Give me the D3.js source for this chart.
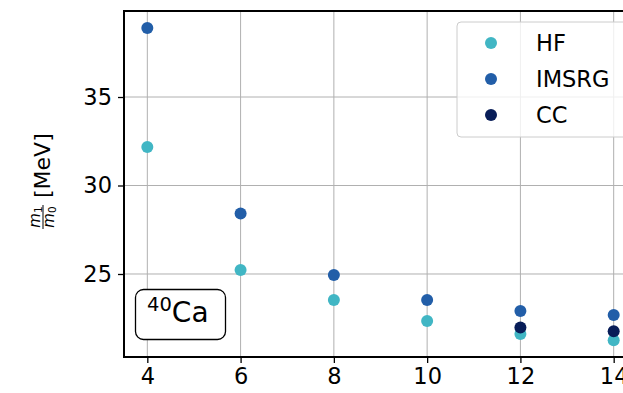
<!DOCTYPE html>
<html><head><meta charset="utf-8">
<script src="https://cdn.jsdelivr.net/npm/d3@7"></script>
<style>body{margin:0;background:#fff}svg{display:block;font-family:"DejaVu Sans",sans-serif}</style>
</head><body>
<svg id="c" width="623" height="393"></svg>
<script>
const emax = [4, 6, 8, 10, 12, 14];
const hf = [32.18, 25.23, 23.53, 22.35, 21.61, 21.25];
const imsrg = [38.9, 28.42, 24.94, 23.53, 22.91, 22.68];
const ccX = [12, 14];
const cc = [21.98, 21.76];
const xTicks = [4, 6, 8, 10, 12, 14];
const yTicks = [25, 30, 35];
const seriesNames = ["HF", "IMSRG", "CC"];
const colors = ["#41b6c4", "#225ea8", "#081d58"];

const svg = d3.select("#c");
const L = 124, T = 11, B = 357, R = 637;
const x = d3.scaleLinear().domain([3.5, 14.5]).range([L, R]);
const y = d3.scaleLinear().domain([20.31, 39.86]).range([B, T]);

// grid
svg.append("g").selectAll("line").data(xTicks).join("line")
  .attr("x1", d => x(d)).attr("x2", d => x(d)).attr("y1", T).attr("y2", B)
  .attr("stroke", "#b0b0b0").attr("stroke-width", 1);
svg.append("g").selectAll("line").data(yTicks).join("line")
  .attr("x1", L).attr("x2", R).attr("y1", d => y(d)).attr("y2", d => y(d))
  .attr("stroke", "#b0b0b0").attr("stroke-width", 1);

// axes
const xa = svg.append("g").attr("transform", `translate(0,${B})`)
  .call(d3.axisBottom(x).tickValues(xTicks).tickSize(6).tickPadding(5));
const ya = svg.append("g").attr("transform", `translate(${L},0)`)
  .call(d3.axisLeft(y).tickValues(yTicks).tickSize(6).tickPadding(6));
[xa, ya].forEach(g => {
  g.select(".domain").remove();
  g.selectAll("text").attr("font-size", 22.5).attr("font-family", "DejaVu Sans").attr("fill", "#000");
  g.selectAll("line").attr("stroke", "#000").attr("stroke-width", 1.3);
});
// spines
svg.append("rect").attr("x", L).attr("y", T).attr("width", R - L).attr("height", B - T)
  .attr("fill", "none").attr("stroke", "#000").attr("stroke-width", 2);

// points
const data = [
  emax.map((e, i) => [e, hf[i]]),
  emax.map((e, i) => [e, imsrg[i]]),
  ccX.map((e, i) => [e, cc[i]])
];
data.forEach((pts, k) => {
  svg.append("g").selectAll("circle").data(pts).join("circle")
    .attr("cx", d => x(d[0])).attr("cy", d => y(d[1])).attr("r", 6)
    .attr("fill", colors[k]);
});

// legend
const lg = svg.append("g");
lg.append("rect").attr("x", 457).attr("y", 22).attr("width", 200).attr("height", 115)
  .attr("rx", 4).attr("fill", "#fff").attr("fill-opacity", 0.8).attr("stroke", "#ccc").attr("stroke-width", 1);
seriesNames.forEach((n, i) => {
  const yy = 43 + i * 36;
  lg.append("circle").attr("cx", 491).attr("cy", yy).attr("r", 6).attr("fill", colors[i]);
  lg.append("text").attr("x", 536).attr("y", yy).attr("dy", "0.36em").attr("font-size", 22.5).text(n);
});

// nucleus box
svg.append("rect").attr("x", 135.5).attr("y", 289.5).attr("width", 90).attr("height", 50)
  .attr("rx", 8).attr("fill", "#fff").attr("stroke", "#000").attr("stroke-width", 1.3);
const t = svg.append("text").attr("x", 147).attr("y", 322).attr("font-size", 28);
t.append("tspan").attr("font-size", 19.5).attr("dy", -11).text("40");
t.append("tspan").attr("dy", 11).text("Ca");

// y label
const yl = svg.append("g").attr("transform", "translate(50,198) rotate(-90)");
yl.append("text").attr("x", 0).attr("y", 0).attr("font-size", 22).text("[MeV]");
const fr = yl.append("g").attr("transform", "translate(-19,-7)");
fr.append("line").attr("x1", -12).attr("x2", 12).attr("y1", 0).attr("y2", 0).attr("stroke", "#000").attr("stroke-width", 1);
const n1 = fr.append("text").attr("x", 0).attr("y", -3).attr("text-anchor", "middle").attr("font-size", 15).attr("font-style", "italic");
n1.append("tspan").text("m");
n1.append("tspan").attr("font-size", 10.5).attr("font-style", "normal").attr("dy", 2).text("1");
const d0 = fr.append("text").attr("x", 0).attr("y", 11).attr("text-anchor", "middle").attr("font-size", 15).attr("font-style", "italic");
d0.append("tspan").text("m");
d0.append("tspan").attr("font-size", 10.5).attr("font-style", "normal").attr("dy", 2).text("0");
</script>
</body></html>
